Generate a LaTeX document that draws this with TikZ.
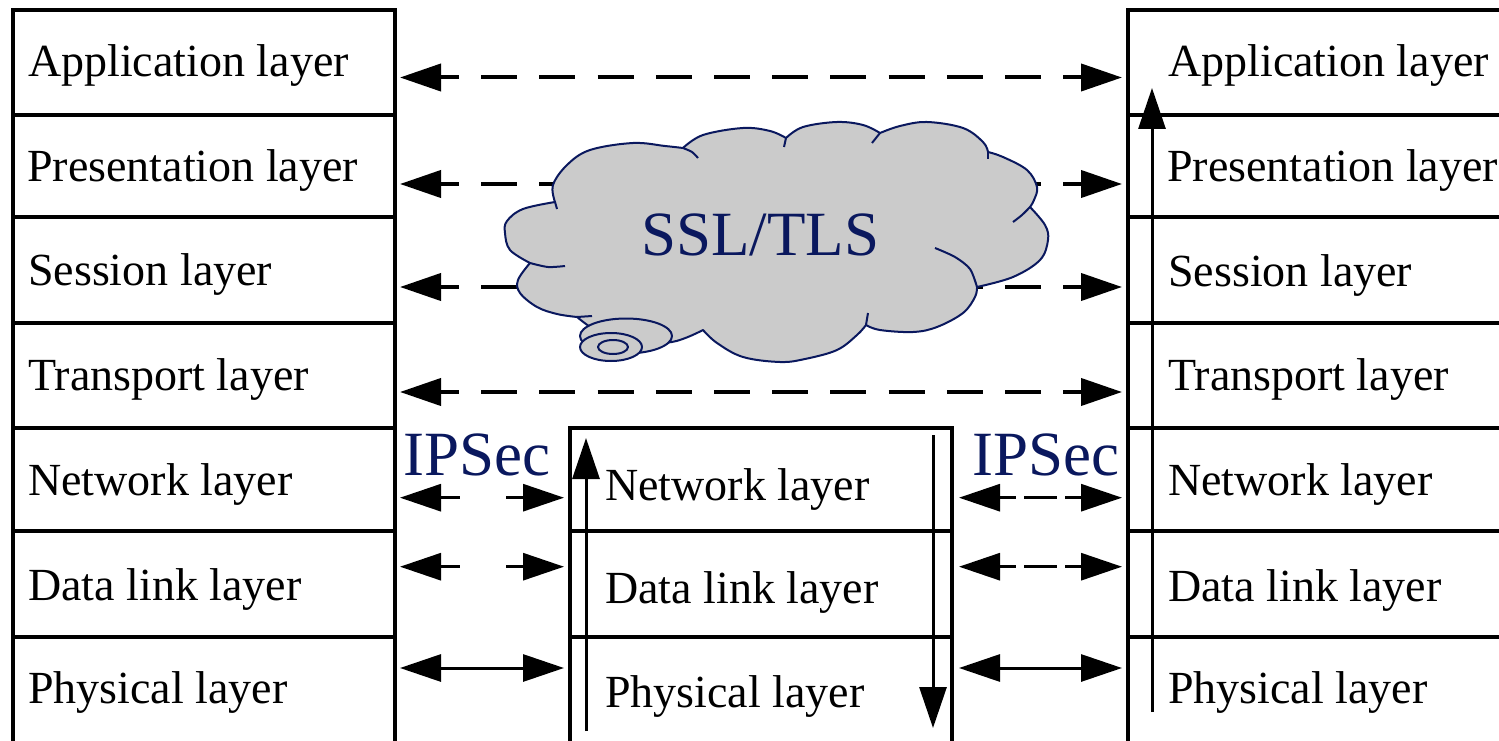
\documentclass[tikz,border=0pt]{standalone}
\usepackage{fontspec}
\setmainfont{Liberation Serif}
\usetikzlibrary{arrows.meta}
\definecolor{navy}{RGB}{10,24,94}
\definecolor{cloudgray}{RGB}{203,203,203}
\begin{document}
\begin{tikzpicture}[x=1pt,y=-1pt,
  rowbox/.style={draw, line width=4pt, inner sep=0pt, outer sep=0pt},
  lrow/.style={rowbox, minimum width=382pt},
  rrow/.style={rowbox, minimum width=452pt},
  lbl/.style={font=\fontsize{46}{50}\selectfont, inner sep=0pt, anchor=base west},
  bigtxt/.style={text=navy, font=\fontsize{63}{70}\selectfont, inner sep=0pt, anchor=base west},
  >={Triangle[length=41pt,width=27pt]},
  dasharrow/.style={<->, line width=4pt, dash pattern=on 36pt off 22.2pt, dash phase=17pt},
  ldash/.style={<->, line width=3pt, dash pattern=on 20pt off 46pt on 60pt},
  rdash/.style={<->, line width=3pt, dash pattern=on 17pt off 8pt on 33pt off 8pt on 40pt},
  solidarrow/.style={<->, line width=3pt},
  vert/.style={->, line width=3pt},
  cloudline/.style={draw=navy, line width=2pt, line join=round},
  cloudfill/.style={cloudline, fill=cloudgray}
]
\useasboundingbox (0,0) rectangle (1499,741);
\clip (0,0) rectangle (1499,741);

% left stack
\node[lrow, minimum height=105pt] (L1) at (204,62.5) {};
\node[lrow, minimum height=102pt] (L2) at (204,166) {};
\node[lrow, minimum height=106pt] (L3) at (204,270) {};
\node[lrow, minimum height=105pt] (L4) at (204,375.5) {};
\node[lrow, minimum height=103pt] (L5) at (204,479.5) {};
\node[lrow, minimum height=106pt] (L6) at (204,584) {};
\node[lrow, minimum height=115pt] (L7) at (204,694.5) {};
% middle stack
\node[lrow, minimum height=103pt] (M5) at (761,479.5) {};
\node[lrow, minimum height=106pt] (M6) at (761,584) {};
\node[lrow, minimum height=115pt] (M7) at (761,694.5) {};
% right stack
\node[rrow, minimum height=105pt] (R1) at (1354,62.5) {};
\node[rrow, minimum height=102pt] (R2) at (1354,166) {};
\node[rrow, minimum height=106pt] (R3) at (1354,270) {};
\node[rrow, minimum height=105pt] (R4) at (1354,375.5) {};
\node[rrow, minimum height=103pt] (R5) at (1354,479.5) {};
\node[rrow, minimum height=106pt] (R6) at (1354,584) {};
\node[rrow, minimum height=115pt] (R7) at (1354,694.5) {};

% labels
\node[lbl] (tL1) at (28,76.5) {Application layer};
\node[lbl] (tL2) at (27,181) {Presentation layer};
\node[lbl] (tL3) at (28,285) {Session layer};
\node[lbl] (tL4) at (28,390) {Transport layer};
\node[lbl] (tL5) at (28,495) {Network layer};
\node[lbl] (tL6) at (28,600) {Data link layer};
\node[lbl] (tL7) at (28,703) {Physical layer};
\node[lbl] (tM5) at (605,500) {Network layer};
\node[lbl] (tM6) at (605,603) {Data link layer};
\node[lbl] (tM7) at (605,707) {Physical layer};
\node[lbl] (tR1) at (1168,76.5) {Application layer};
\node[lbl] (tR2) at (1167,181) {Presentation layer};
\node[lbl] (tR3) at (1168,286) {Session layer};
\node[lbl] (tR4) at (1168,390) {Transport layer};
\node[lbl] (tR5) at (1168,495) {Network layer};
\node[lbl] (tR6) at (1168,601) {Data link layer};
\node[lbl] (tR7) at (1168,703) {Physical layer};

% peer arrows
\draw[dasharrow] ([shift={(5pt,-15pt)}]L1.east) -- ([shift={(-6pt,-15pt)}]R1.west);
\draw[dasharrow] ([shift={(5pt,-18pt)}]L2.east) -- ([shift={(-6pt,-18pt)}]R2.west);
\draw[dasharrow] ([shift={(5pt,-17pt)}]L3.east) -- ([shift={(-6pt,-17pt)}]R3.west);
\draw[dasharrow] ([shift={(5pt,-16.5pt)}]L4.east) -- ([shift={(-6pt,-16.5pt)}]R4.west);

\draw[ldash] ([shift={(5pt,-18.2pt)}]L5.east) -- ([shift={(-6pt,-18.2pt)}]M5.west);
\draw[ldash] ([shift={(5pt,17.3pt)}]L6.east) -- ([shift={(-6pt,17.3pt)}]M6.west);
\draw[solidarrow] ([shift={(5pt,26.5pt)}]L7.east) -- ([shift={(-6pt,26.5pt)}]M7.west);
\draw[rdash] ([shift={(7pt,-18.2pt)}]M5.east) -- ([shift={(-6pt,-18.2pt)}]R5.west);
\draw[rdash] ([shift={(7pt,17.3pt)}]M6.east) -- ([shift={(-6pt,17.3pt)}]R6.west);
\draw[solidarrow] ([shift={(7pt,26.5pt)}]M7.east) -- ([shift={(-6pt,26.5pt)}]R7.west);

% vertical flow arrows
\coordinate (mupA) at (586,731);
\coordinate (mupB) at (586,438);
\coordinate (mdnA) at (933,435);
\coordinate (mdnB) at (933,728);
\coordinate (rupA) at (1152,712);
\coordinate (rupB) at (1152,88);
\draw[vert] (mupA) -- (mupB);
\draw[vert] (mdnA) -- (mdnB);
\draw[vert] (rupA) -- (rupB);

% cloud
\path[cloudfill]
  plot[smooth, tension=0.6] coordinates {(577,317) (557,314) (537,307) (520,293) (518,280) (530,263)}
  -- plot[smooth, tension=0.6] coordinates {(530,263) (510,250) (505,233) (507,221) (523,209) (555,202)}
  -- plot[smooth, tension=0.6] coordinates {(555,202) (553,185) (567,165) (590,150) (633,143) (665,146) (683,148)}
  -- plot[smooth, tension=0.6] coordinates {(683,148) (703,135) (743,128) (770,131) (786,138)}
  -- plot[smooth, tension=0.6] coordinates {(786,138) (803,127) (837,122) (863,125) (880,133)}
  -- plot[smooth, tension=0.6] coordinates {(880,133) (900,126) (927,122) (963,128) (983,142) (988,152)}
  -- plot[smooth, tension=0.6] coordinates {(988,152) (1003,157) (1027,170) (1037,187) (1034,200) (1030,207)}
  -- plot[smooth, tension=0.6] coordinates {(1030,207) (1045,225) (1048,240) (1040,260) (1013,277) (977,287)}
  -- plot[smooth, tension=0.6] coordinates {(977,287) (975,297) (963,313) (937,327) (913,332) (880,330) (866,325)}
  -- plot[smooth, tension=0.6] coordinates {(866,325) (857,335) (837,350) (805,359) (780,362) (743,357) (717,343) (703,330)}
  -- plot[smooth, tension=0.6] coordinates {(703,330) (672,342) (630,342) (600,333) (577,317)}
  -- cycle;
% inner strokes
\draw[cloudline] plot[smooth] coordinates {(530,263) (548,267) (565,266)};
\draw[cloudline] (555,202) -- (557,209);
\draw[cloudline] plot[smooth] coordinates {(683,148) (692,152) (698,158)};
\draw[cloudline] (786,138) -- (784,147);
\draw[cloudline] (880,133) -- (872,143);
\draw[cloudline] (988,152) -- (988,159);
\draw[cloudline] plot[smooth] coordinates {(1030,207) (1022,215) (1013,222)};
\draw[cloudline] plot[smooth] coordinates {(977,287) (970,269) (955,257) (935,248)};
\draw[cloudline] (866,325) -- (868,313);
\draw[cloudline] (577,317) -- (592,316);
% tail
\path[cloudfill] (626,336) ellipse [x radius=46pt, y radius=17.5pt];
\path[cloudfill] (611,347) ellipse [x radius=31pt, y radius=14pt];
\draw[cloudline] (613,347) ellipse [x radius=15pt, y radius=7pt];

% protocol labels
\node[bigtxt] (ssl) at (641,255) {SSL/TLS};
\node[bigtxt] (ipsecL) at (403,475) {IPSec};
\node[bigtxt] (ipsecR) at (972,475) {IPSec};
\end{tikzpicture}
\end{document}
